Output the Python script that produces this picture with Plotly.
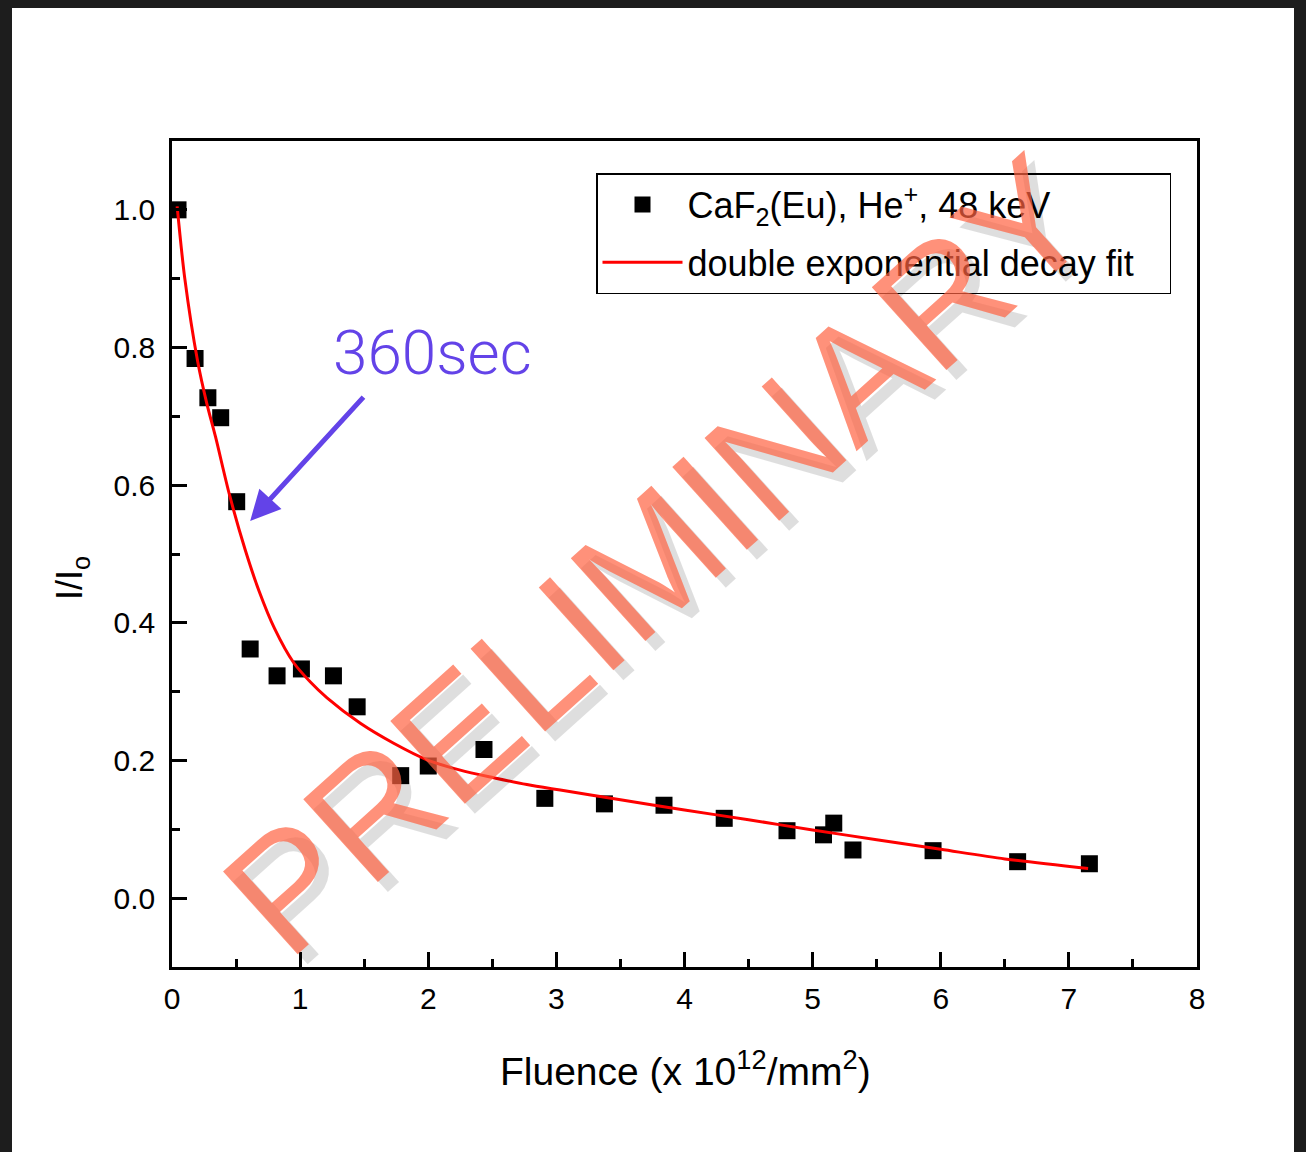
import plotly.graph_objects as go

# ---- data ----
fluence = [0.047, 0.18, 0.28, 0.38, 0.505, 0.61, 0.82, 1.01, 1.26, 1.445,
           1.785, 2.0, 2.435, 2.91, 3.375, 3.84, 4.31, 4.80, 5.085, 5.165,
           5.315, 5.94, 6.60, 7.16]
intensity = [1.0, 0.784, 0.727, 0.698, 0.576, 0.362, 0.323, 0.333, 0.323, 0.278,
             0.178, 0.192, 0.216, 0.145, 0.137, 0.135, 0.116, 0.098, 0.092, 0.109,
             0.070, 0.069, 0.053, 0.050]

fit_x = [0.04, 0.10, 0.20, 0.27, 0.34, 0.45, 0.57, 0.68, 0.80, 0.95, 1.08, 1.21,
         1.47, 1.73, 1.99, 2.25, 2.51, 2.77, 3.03, 3.50, 4.00, 4.50, 5.00, 5.50,
         6.00, 6.50, 7.15]
fit_y = [1.005, 0.90, 0.78, 0.72, 0.67, 0.585, 0.507, 0.446, 0.392, 0.342, 0.314, 0.291,
         0.254, 0.225, 0.201, 0.186, 0.175, 0.165, 0.157, 0.143, 0.128, 0.114, 0.099,
         0.085, 0.071, 0.057, 0.043]

x_ticks = [0, 1, 2, 3, 4, 5, 6, 7, 8]
y_ticks = [0.0, 0.2, 0.4, 0.6, 0.8, 1.0]
y_tick_labels = ["0.0", "0.2", "0.4", "0.6", "0.8", "1.0"]

series_names = ["CaF<sub>2</sub>(Eu), He<sup>+</sup>, 48 keV",
                "double exponential decay fit\u00a0\u00a0\u00a0"]

FONT = "Liberation Sans, Arial, Helvetica, sans-serif"

fig = go.Figure()
fig.add_trace(go.Scatter(
    x=fluence, y=intensity, mode="markers", name=series_names[0], legendgroup="data",
    marker=dict(symbol="square", size=17, color="black", line=dict(width=0)),
))
fig.add_trace(go.Scatter(
    x=fit_x, y=fit_y, mode="lines", name=series_names[1], legendgroup="fit",
    line=dict(color="#ff0000", width=3, shape="spline", smoothing=0.8),
))

W, H = 1306, 1152
L, R, T, B = 172, 1197, 141, 967


def px(xp):
    return (xp - L) / (R - L)


def py(yp):
    return (B - yp) / (B - T)


axis_common = dict(
    showline=True, linecolor="black", linewidth=2.5, mirror=True,
    showgrid=False, zeroline=False,
    ticks="inside", ticklen=15, tickwidth=2.5, tickcolor="black",
    tickfont=dict(family=FONT, size=30, color="black"),
)

fig.update_xaxes(
    range=[0, 8], tickmode="array", tickvals=x_ticks,
    ticklabelstandoff=3,
    minor=dict(ticks="inside", dtick=0.5, tick0=0, ticklen=8, tickwidth=2.5, tickcolor="black"),
    **axis_common,
)
fig.update_yaxes(
    range=[-0.1, 1.1], tickmode="array", tickvals=y_ticks, ticktext=y_tick_labels,
    ticklabelstandoff=8,
    minor=dict(ticks="inside", dtick=0.1, tick0=0, ticklen=8, tickwidth=2.5, tickcolor="black"),
    **axis_common,
)

annotations = [
    # axis titles
    dict(text="Fluence (x 10<sup>12</sup>/mm<sup>2</sup>)", xref="paper", yref="paper",
         x=px(685), y=py(1068), showarrow=False, xanchor="center", yanchor="middle",
         font=dict(family=FONT, size=39, color="black")),
    dict(text="I/I<sub>o</sub>", xref="paper", yref="paper", textangle=-90,
         x=px(72), y=py(578), showarrow=False, xanchor="center", yanchor="middle",
         font=dict(family=FONT, size=36, color="black")),
    # 360sec label and arrow
    dict(text="360sec", xref="paper", yref="paper", x=px(432), y=py(352),
         showarrow=False, xanchor="center", yanchor="middle",
         font=dict(family="Roboto, Lato, sans-serif", size=62, color="#6343e8", weight=300)),
    dict(text="", x=0.61, y=0.548, xref="x", yref="y", ax=1.505, ay=0.73,
         axref="x", ayref="y", showarrow=True, arrowhead=2, arrowsize=1.2,
         arrowwidth=5, arrowcolor="#6343e8", standoff=0),
    # watermark shadow + watermark
    dict(text="PRELIMINARY", xref="paper", yref="paper", x=px(660), y=py(559),
         xshift=6, yshift=-6, showarrow=False, textangle=-42,
         font=dict(family=FONT, size=162, color="rgba(0,0,0,0.13)")),
    dict(text="PRELIMINARY", xref="paper", yref="paper", x=px(656), y=py(555),
         showarrow=False, textangle=-42,
         font=dict(family=FONT, size=162, color="rgba(255,98,66,0.70)")),
]

shapes = [
    dict(type="rect", xref="paper", yref="paper", layer="below",
         x0=px(12), x1=px(1294), y0=py(1152), y1=py(8),
         fillcolor="white", line=dict(width=0)),
]

fig.update_layout(
    width=W, height=H,
    margin=dict(l=L, r=W - R, t=T, b=H - B, pad=0),
    paper_bgcolor="#1d1d1d", plot_bgcolor="white",
    showlegend=True,
    legend=dict(
        x=px(596), y=py(173), xanchor="left", yanchor="top",
        bgcolor="white", bordercolor="black", borderwidth=1.5,
        font=dict(family=FONT, size=36, color="black"),
        itemwidth=80, traceorder="grouped", tracegroupgap=8,
    ),
    annotations=annotations, shapes=shapes,
)

fig.write_html("out.html", config={"displayModeBar": False},
               post_script="document.body.style.margin='0';")
